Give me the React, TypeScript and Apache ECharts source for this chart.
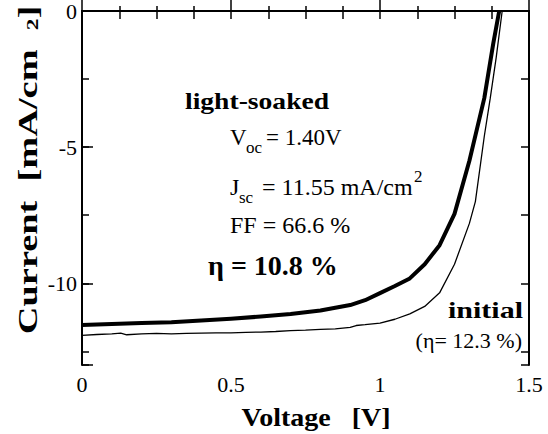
import React, { useEffect, useRef } from "react";
import * as echarts from "echarts";

const FONT = "'Liberation Serif', 'Times New Roman', serif";

// light-soaked J-V curve (thick)
const vLight = [0, 0.1, 0.2, 0.3, 0.4, 0.5, 0.6, 0.7, 0.8, 0.85, 0.9, 0.95, 1.0, 1.05, 1.1, 1.15, 1.2, 1.25, 1.3, 1.35, 1.38, 1.4];
const jLight = [-11.53, -11.49, -11.46, -11.43, -11.37, -11.3, -11.22, -11.13, -11.0, -10.9, -10.8, -10.62, -10.36, -10.1, -9.82, -9.3, -8.6, -7.45, -5.5, -3.2, -1.2, 0];

// initial J-V curve (thin)
const vInit = [0, 0.05, 0.1, 0.13, 0.15, 0.2, 0.25, 0.3, 0.35, 0.4, 0.45, 0.5, 0.55, 0.6, 0.65, 0.7, 0.75, 0.8, 0.85, 0.9, 0.92, 0.95, 1.0, 1.05, 1.1, 1.15, 1.2, 1.25, 1.3, 1.32, 1.35, 1.37, 1.39, 1.41];
const jInit = [-11.91, -11.88, -11.86, -11.83, -11.89, -11.86, -11.84, -11.86, -11.84, -11.83, -11.82, -11.82, -11.8, -11.79, -11.77, -11.74, -11.72, -11.69, -11.67, -11.62, -11.55, -11.52, -11.46, -11.32, -11.12, -10.85, -10.35, -9.3, -7.8, -7.0, -4.6, -3.2, -1.7, 0];

const xMin = 0;
const xMax = 1.5;
const yMin = -13;
const yMax = 0;

function txt(x: number, y: number, text: string, size: number, bold = false, align = "left", scaleX = 1) {
  return {
    type: "text",
    x,
    y,
    scaleX,
    silent: true,
    style: {
      text,
      fontSize: size,
      fontWeight: bold ? "bold" : "normal",
      fontFamily: FONT,
      fill: "#000",
      textAlign: align,
      textVerticalAlign: "middle",
    },
  };
}

export default function App() {
  const ref = useRef<HTMLDivElement>(null);
  useEffect(() => {
    if (!ref.current) return;
    const chart = echarts.init(ref.current, null, { renderer: "svg" });
    const black = "#000";
    const lineStyle = { color: black, width: 2 };
    const tickStyle = { color: black, width: 1.5 };
    chart.setOption({
      animation: false,
      backgroundColor: "#fff",
      textStyle: { fontFamily: FONT },
      grid: { left: 82, right: 19, top: 5, bottom: 69, containLabel: false },
      xAxis: [
        {
          type: "value",
          position: "bottom",
          min: xMin,
          max: xMax,
          interval: 0.5,
          axisLine: { show: true, lineStyle },
          axisTick: { show: true, inside: true, length: 11, lineStyle: tickStyle },
          minorTick: { show: true, splitNumber: 4, length: 5, lineStyle: tickStyle },
          splitLine: { show: false },
          minorSplitLine: { show: false },
          axisLabel: { fontSize: 22, color: black, fontFamily: FONT, margin: 8 },
        },
        {
          type: "value",
          position: "top",
          min: xMin,
          max: xMax,
          interval: 0.125,
          axisLine: { show: true, lineStyle },
          axisTick: { show: true, inside: true, length: 8, lineStyle: tickStyle },
          splitLine: { show: false },
          axisLabel: { show: false },
        },
      ],
      yAxis: [
        {
          type: "value",
          position: "left",
          min: yMin,
          max: yMax,
          axisLine: { show: true, lineStyle },
          axisTick: { show: false },
          axisLabel: { show: false },
          splitLine: { show: false },
        },
        {
          type: "value",
          position: "left",
          min: 0,
          max: 13,
          inverse: true,
          interval: 2.5,
          axisLine: { show: false },
          axisTick: { show: true, inside: true, length: 7, lineStyle: tickStyle },
          axisLabel: { show: false },
          splitLine: { show: false },
        },
        {
          type: "value",
          position: "left",
          min: 0,
          max: 13,
          inverse: true,
          interval: 5,
          axisLine: { show: false },
          axisTick: { show: true, inside: true, length: 11, lineStyle: tickStyle },
          axisLabel: {
            fontSize: 22,
            color: black,
            fontFamily: FONT,
            margin: 5,
            formatter: (v: number) => (v % 5 === 0 ? (v === 0 ? "0" : "-" + v) : ""),
          },
          splitLine: { show: false },
        },
        {
          type: "value",
          position: "right",
          min: 0,
          max: 13,
          inverse: true,
          interval: 2.5,
          axisLine: { show: true, lineStyle },
          axisTick: { show: true, inside: true, length: 8, lineStyle: tickStyle },
          axisLabel: { show: false },
          splitLine: { show: false },
        },
      ],
      series: [
        {
          type: "line",
          name: "initial",
          xAxisIndex: 0,
          yAxisIndex: 0,
          data: vInit.map((v, i) => [v, jInit[i]]),
          showSymbol: false,
          symbol: "none",
          lineStyle: { color: black, width: 1.3 },
          clip: true,
        },
        {
          type: "line",
          name: "light-soaked",
          xAxisIndex: 0,
          yAxisIndex: 0,
          data: vLight.map((v, i) => [v, jLight[i]]),
          showSymbol: false,
          symbol: "none",
          lineStyle: { color: black, width: 4, join: "round" },
          clip: true,
        },
      ],
      graphic: {
        elements: [
          {
            type: "text",
            x: 27,
            y: 170,
            rotation: Math.PI / 2,
            scaleX: 1.37,
            silent: true,
            style: {
              text: "{a|Current  [mA/cm  }{b|2}{a|]}",
              rich: {
                a: { fontSize: 28, fontWeight: "bold", fontFamily: FONT, fill: black },
                b: { fontSize: 17, fontWeight: "bold", fontFamily: FONT, fill: black, verticalAlign: "bottom" },
              },
              textAlign: "center",
              textVerticalAlign: "middle",
            },
          },
          txt(316, 418, "Voltage   [V]", 25, true, "center", 1.12),
          txt(185, 101, "light-soaked", 23, true, "left", 1.2),
          txt(230, 137, "V", 23),
          txt(246, 147, "oc", 17),
          txt(266, 137, "= 1.40V", 23),
          txt(230, 187, "J", 24),
          txt(239, 197, "sc", 17),
          txt(262, 187, "= 11.55 mA/cm", 24),
          txt(414, 176, "2", 17),
          txt(230, 225, "FF = 66.6 %", 24),
          txt(208, 265, "η = 10.8 %", 28, true),
          txt(523, 310, "initial", 24, true, "right", 1.25),
          txt(522, 340, "(η= 12.3 %)", 22, false, "right"),
        ],
      },
    });
    return () => chart.dispose();
  }, []);
  return (
    <div
      ref={ref}
      style={{ position: "fixed", left: 0, top: 0, width: 548, height: 434, background: "#fff" }}
    />
  );
}
